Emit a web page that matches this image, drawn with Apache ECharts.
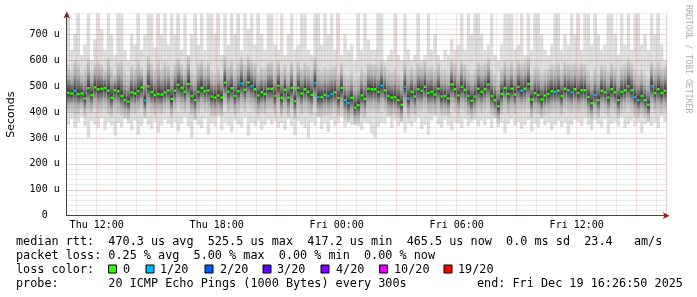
<!DOCTYPE html>
<html><head><meta charset="utf-8">
<script src="https://cdn.jsdelivr.net/npm/echarts@6/dist/echarts.min.js"></script>
<style>html,body{margin:0;padding:0;background:#fff}#c{width:697px;height:297px}</style>
</head><body><div id="c"></div>
<script>
// time base: first sample starts Thu 10:30, 10-minute samples
const START_MIN = 10 * 60 + 30;
const STEP_MIN = 10;
const DAYS = ['Thu', 'Fri'];

// median rtt per sample (microseconds)
const median = [
  475,472,482,470,472,452,492,465,496,488,490,494,482,455,484,480,462,446,440,476,472,480,496,445,500,477,465,470,468,476,483,
  450,482,505,494,478,508,462,446,478,494,480,483,460,456,464,456,514,478,492,462,480,510,486,515,500,488,464,476,470,490,
  490,462,502,455,486,456,494,442,494,472,488,478,466,512,458,458,466,462,470,476,454,494,446,434,455,418,426,464,450,490,488,
  488,478,502,484,462,456,458,446,428,498,452,478,460,488,482,498,474,478,468,490,460,462,452,506,488,464,498,486,462,444,460,
  490,478,488,506,462,446,422,470,494,470,490,468,498,482,490,508,448,474,466,448,464,470,480,478,482,462,490,484,476,488,
  474,484,484,458,434,466,446,482,476,456,488,476,446,478,484,500,484,458,446,462,446,428,500,474,488,474,482
];
// lost pings (of 20) per sample
const loss = [
  0,0,1,0,0,0,0,0,0,0,0,0,0,0,0,0,0,0,0,0,0,0,0,1,0,0,0,0,0,0,0,
  0,0,0,0,0,0,0,0,0,0,0,0,0,0,0,0,0,0,0,0,0,1,0,0,1,0,0,0,0,0,
  0,0,0,0,0,0,0,0,0,0,0,0,0,1,1,0,0,1,1,0,0,0,1,1,0,0,0,0,0,0,0,
  0,0,1,0,0,0,0,0,0,1,1,0,0,0,0,0,0,0,0,0,0,0,0,0,0,0,0,0,0,0,0,
  0,0,0,0,0,0,0,0,0,0,0,0,0,1,0,0,0,0,0,0,0,0,0,1,0,0,0,0,1,0,
  0,0,0,0,0,1,0,0,0,0,0,0,0,0,0,0,0,1,1,0,0,0,1,0,0,0,0
];
// slowest ping per sample
const pingMax = [
  780,640,700,780,620,660,780,600,680,780,720,640,780,700,620,780,780,640,600,700,660,780,640,700,780,780,650,780,700,780,660,
  780,700,780,640,780,620,700,780,660,780,640,780,780,700,780,620,780,660,780,700,780,640,780,720,780,660,780,700,640,780,
  780,660,640,780,620,700,780,640,660,780,780,640,620,780,780,660,780,700,780,640,780,620,700,640,660,600,780,640,780,680,640,
  640,780,780,600,620,640,780,620,600,780,640,600,620,780,600,620,780,640,700,620,600,640,620,680,640,660,780,640,780,700,780,
  780,700,640,660,780,620,600,660,780,780,780,640,660,780,620,780,640,780,780,700,640,620,660,780,780,640,700,660,780,700,
  780,640,780,780,660,780,700,640,660,780,780,700,620,780,660,780,640,780,780,660,700,640,780,700,780,660,600
];
// upper edge of the dense smoke
const pingHi = [
  580,560,600,590,555,570,610,560,590,600,585,565,610,575,550,595,600,560,545,580,570,600,575,560,620,590,565,600,570,595,580,
  560,590,610,585,570,620,560,550,590,600,575,595,560,555,570,550,620,580,600,565,590,615,585,620,600,590,560,575,570,595,
  595,565,600,560,585,555,600,550,595,570,590,580,565,615,570,560,575,565,575,580,555,590,550,545,560,530,540,570,555,590,585,
  585,575,600,580,560,555,570,550,540,600,560,575,560,590,580,600,575,580,565,590,560,565,555,605,590,565,600,585,565,550,565,
  595,580,590,610,565,550,530,570,600,575,595,570,600,590,595,615,550,575,570,550,565,570,585,580,590,565,595,585,580,590,
  575,590,585,560,540,570,550,585,580,560,590,575,550,580,585,605,590,565,550,565,550,535,600,575,590,575,580
];
// lower edge of the dense smoke
const pingLo = [
  395,400,385,390,405,380,400,395,410,395,400,405,390,380,400,395,385,375,370,395,390,400,410,375,405,395,385,395,390,400,405,
  375,400,415,405,395,410,385,370,395,410,400,400,385,380,390,380,420,395,405,385,400,415,400,420,410,400,385,395,390,405,
  405,385,410,380,400,380,405,370,405,390,400,395,385,415,380,380,385,385,390,395,380,400,370,360,375,350,355,385,375,400,400,
  400,395,410,400,385,380,385,375,360,405,375,395,385,400,400,405,395,395,390,400,385,385,380,410,400,385,405,400,385,370,385,
  400,395,400,410,385,375,355,390,405,390,400,390,405,400,400,410,375,395,390,375,385,390,395,395,400,385,400,400,395,400,
  395,400,400,380,365,390,375,400,395,380,400,395,375,395,400,410,400,380,375,385,375,360,410,395,400,395,400
];
// fastest ping per sample
const pingMin = [
  350,372,340,360,380,345,300,365,352,340,375,330,362,348,310,358,340,372,355,330,366,312,345,378,350,336,362,320,348,370,355,
  340,362,325,355,380,345,300,368,350,338,372,315,356,344,382,330,360,348,322,366,352,340,376,310,358,346,365,332,350,370,
  352,365,340,358,330,372,345,312,366,350,338,300,362,347,380,335,356,322,368,345,358,380,340,362,350,372,345,330,360,355,318,
  300,342,360,355,380,338,366,345,372,320,356,344,362,378,335,350,312,366,384,352,340,370,348,330,362,356,338,372,345,360,368,
  345,366,350,372,338,380,342,360,318,355,372,346,362,335,350,368,325,356,340,372,348,362,330,352,366,342,360,315,350,370,
  362,345,372,350,330,368,354,340,372,316,356,364,345,380,338,352,366,344,360,320,352,372,346,360,338,384,362
];

const Y_MAX = 780;
const lossLabels = ['0', '1/20', '2/20', '3/20', '4/20', '10/20', '19/20'];
const lossThresholds = [0, 1, 2, 3, 4, 10, 19];
const lossColors = ['#26ff00', '#00b8ff', '#0059ff', '#5e00ff', '#7e00ff', '#dd00ff', '#ff0000'];

const legendRtt = 'median rtt:  470.3 us avg  525.5 us max  417.2 us min  465.5 us now  0.0 ms sd  23.4   am/s';
const legendLoss = 'packet loss: 0.25 % avg  5.00 % max  0.00 % min  0.00 % now';
const legendLossTitle = 'loss color:';
const legendProbe = 'probe:       20 ICMP Echo Pings (1000 Bytes) every 300s';
const legendEnd = 'end: Fri Dec 19 16:26:50 2025';
const watermark = 'RRDTOOL / TOBI OETIKER';

function pad(n) { return (n < 10 ? '0' : '') + n; }
const categories = median.map((_, i) => {
  const t = START_MIN + i * STEP_MIN;
  return DAYS[Math.floor(t / 1440)] + ' ' + pad(Math.floor((t % 1440) / 60)) + ':' + pad(t % 60);
});
function isHour(v) { return v.slice(-2) === '00'; }
function hourOf(v) { return parseInt(v.slice(4, 6), 10); }
function isEvery(v, h) { return isHour(v) && hourOf(v) % h === 0; }

function lossColor(n) {
  let c = lossColors[0];
  for (let k = 0; k < lossThresholds.length; k++) if (n >= lossThresholds[k]) c = lossColors[k];
  return c;
}

const seriesData = median.map((m, i) => [i, pingMin[i], pingLo[i], m, pingHi[i], Math.min(pingMax[i], Y_MAX), loss[i]]);

const MONO = 'DejaVu Sans Mono';
const chart = echarts.init(document.getElementById('c'), null, { renderer: 'canvas' });

const graphics = [];
const LEG_FS = 11.8;
function legText(x, y, t, extra) {
  graphics.push(Object.assign({ type: 'text', x: x, y: y, silent: true, style: { text: t, fontFamily: MONO, fontSize: LEG_FS, fill: '#000', textVerticalAlign: 'middle', textAlign: 'left' } }, extra || {}));
}
legText(16, 241.5, legendRtt);
legText(16, 255.5, legendLoss);
legText(16, 269.5, legendLossTitle);
legText(16, 283.5, legendProbe);
legText(477, 283.5, legendEnd);
const boxX = [108.5, 146, 205, 263, 321, 379.5, 444];
const boxTextX = [123, 160, 220, 277, 336, 394, 458];
lossLabels.forEach((lab, k) => {
  graphics.push({ type: 'rect', silent: true, shape: { x: boxX[k], y: 265, width: 8, height: 8 }, style: { fill: lossColors[k], stroke: '#000', lineWidth: 1 } });
  legText(boxTextX[k], 269.5, lab);
});
graphics.push({ type: 'text', x: 688, y: 5, rotation: -Math.PI / 2, silent: true, style: { text: watermark, fontFamily: MONO, fontSize: 8.2, fill: '#b0b0b0', textAlign: 'left', textVerticalAlign: 'middle' } });

const ARROW = '#a01818';
const AXIS = '#444';
const MAJOR = 'rgba(200,0,0,0.26)';
const MINOR = 'rgba(0,0,0,0.15)';

chart.setOption({
  animation: false,
  backgroundColor: '#fff',
  grid: { left: 66.7, right: 30.3, top: 13.6, bottom: 81.3, containLabel: false, outerBoundsMode: 'none' },
  xAxis: [
    { type: 'category', data: categories, boundaryGap: true, position: 'bottom', z: 6,
      axisLine: { show: true, lineStyle: { color: AXIS, width: 1 } },
      axisTick: { show: false },
      axisLabel: { interval: (i, v) => isEvery(v, 6), fontFamily: MONO, fontSize: 10, color: '#000', margin: 5, padding: [0, 3.3, 0, 0], hideOverlap: false },
      splitLine: { show: false } },
    { type: 'category', data: categories, boundaryGap: true, position: 'bottom', z: 4,
      axisLine: { show: true, symbol: ['none', 'arrow'], symbolSize: [5, 7], symbolOffset: [0, 3], lineStyle: { color: ARROW, width: 1 } },
      axisTick: { show: false }, axisLabel: { show: false },
      splitLine: { show: true, interval: (i, v) => isEvery(v, 3), lineStyle: { color: MAJOR, width: 1, type: [1, 1] } } },
    { type: 'category', data: categories, boundaryGap: true, position: 'bottom', z: 3,
      axisLine: { show: false }, axisTick: { show: false }, axisLabel: { show: false },
      splitLine: { show: true, interval: (i, v) => isHour(v) && !isEvery(v, 3), lineStyle: { color: MINOR, width: 1, type: [1, 1] } } }
  ],
  yAxis: [
    { type: 'value', min: 0, max: Y_MAX, interval: 100, position: 'left', z: 6,
      name: 'Seconds', nameLocation: 'middle', nameGap: 50, nameRotate: 90,
      nameTextStyle: { fontFamily: 'DejaVu Sans', fontSize: 11, color: '#000' },
      axisLine: { show: true, lineStyle: { color: AXIS, width: 1 } },
      axisTick: { show: false },
      axisLabel: { fontFamily: MONO, fontSize: 10, color: '#000', margin: 7,
        formatter: v => (v % 100 !== 0 ? '' : (v === 0 ? '0  ' : v + ' u')) },
      splitLine: { show: false } },
    { type: 'value', min: 0, max: Y_MAX, interval: 100, position: 'left', z: 4,
      axisLine: { show: true, symbol: ['none', 'arrow'], symbolSize: [5, 7], symbolOffset: [0, 2], lineStyle: { color: ARROW, width: 1 } },
      axisTick: { show: false }, axisLabel: { show: false },
      splitLine: { show: true, showMinLine: false, showMaxLine: false, lineStyle: { color: MAJOR, width: 1, type: [1, 1] } } },
    { type: 'value', min: 0, max: Y_MAX, interval: 20, position: 'left', z: 3,
      axisLine: { show: false }, axisTick: { show: false }, axisLabel: { show: false },
      splitLine: { show: true, showMinLine: false, lineStyle: { color: MINOR, width: 1, type: [1, 1] } } }
  ],
  series: [{
    type: 'custom', xAxisIndex: 0, yAxisIndex: 0, z: 2, clip: true, silent: true,
    encode: { x: 0, y: [1, 2, 3, 4, 5] },
    data: seriesData,
    renderItem: function (params, api) {
      const i = api.value(0);
      const w = api.size([1, 0])[0];
      const xc = api.coord([i, 0])[0];
      const x0 = xc - w / 2;
      const yMin = api.coord([i, api.value(1)])[1];
      const yLo = api.coord([i, api.value(2)])[1];
      const yMed = api.coord([i, api.value(3)])[1];
      const yHi = api.coord([i, api.value(4)])[1];
      const yMax = api.coord([i, api.value(5)])[1];
      let f = (yMed - yHi) / (yLo - yHi);
      f = Math.max(0.05, Math.min(0.95, f));
      const grad = new echarts.graphic.LinearGradient(0, 0, 0, 1, [
        { offset: 0, color: '#d4d4d4' },
        { offset: f * 0.45, color: '#acacac' },
        { offset: f * 0.8, color: '#646464' },
        { offset: f, color: '#303030' },
        { offset: f + (1 - f) * 0.2, color: '#646464' },
        { offset: f + (1 - f) * 0.55, color: '#acacac' },
        { offset: 1, color: '#d4d4d4' }
      ]);
      const mw = Math.min(w, 2.6);
      return {
        type: 'group',
        children: [
          { type: 'rect', shape: { x: x0, y: yMax, width: w, height: yMin - yMax }, style: { fill: '#dddddd' } },
          { type: 'rect', shape: { x: x0, y: yHi, width: w, height: yLo - yHi }, style: { fill: grad } },
          { type: 'rect', shape: { x: xc - mw / 2, y: yMed - 1.25, width: mw, height: 2.5 }, style: { fill: lossColor(api.value(6)) } }
        ]
      };
    }
  }],
  graphic: graphics
});
</script></body></html>
